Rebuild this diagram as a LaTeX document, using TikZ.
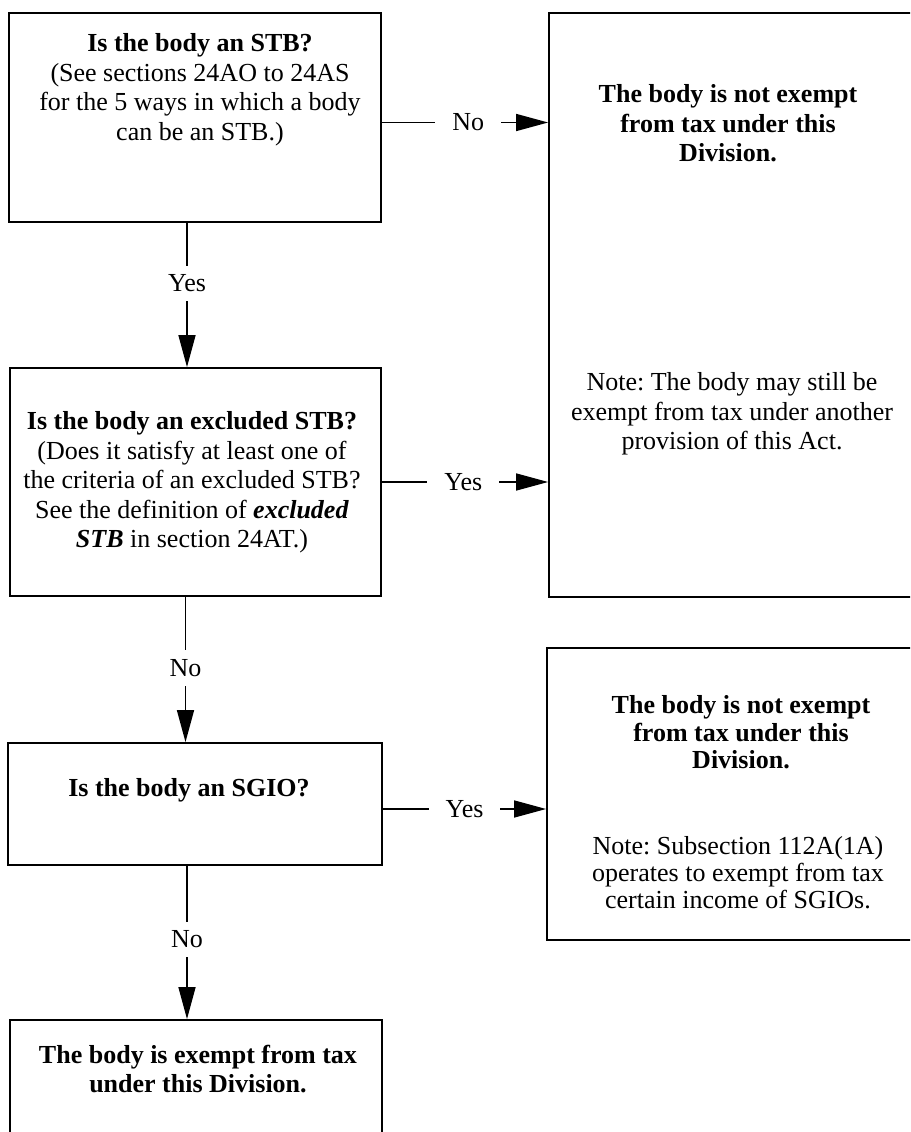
\documentclass[tikz,border=0pt]{standalone}
\usepackage{fontspec}
\setmainfont{Liberation Serif}
\usetikzlibrary{arrows.meta}
\frenchspacing
\begin{document}
\begin{tikzpicture}[x=1pt,y=-1pt,
  boxnode/.style={draw=black,line width=1.8pt,inner sep=0pt},
  txt/.style={align=center,inner sep=0pt,font=\frenchspacing\fontsize{26}{29.5}\selectfont},
  arr/.style={line width=1.5pt,-{Triangle[length=32pt,width=17pt]}},
  lab/.style={fill=white,inner xsep=17pt,inner ysep=9pt,font=\fontsize{26}{29}\selectfont}]
\clip (0,0) rectangle (910,1132);
% boxes
\node[boxnode,minimum width=372pt,minimum height=209pt] (b1) at (195,117.5) {};
\node[boxnode,minimum width=381pt,minimum height=584pt] (r1) at (739.5,305) {};
\node[boxnode,minimum width=371pt,minimum height=228pt] (b2) at (195.5,482) {};
\node[boxnode,minimum width=383pt,minimum height=292pt] (r2) at (738.5,794) {};
\node[boxnode,minimum width=374pt,minimum height=122pt] (b3) at (195,804) {};
\node[boxnode,minimum width=372pt,minimum height=150pt] (b4) at (196,1095) {};
% texts
\node[txt] (t1) at (200,89.5) {\textbf{Is the body an STB?}\\(See sections 24AO to 24AS\\for the 5 ways in which a body\\can be an STB.)};
\node[txt] (t2) at (728,123.5) {\textbf{The body is not exempt}\\\textbf{from tax under this}\\\textbf{Division.}};
\node[txt] (t3) at (732,414) {Note: The body may still be\\exempt from tax under another\\provision of this Act.};
\node[txt] (t4) at (192,482.5) {\textbf{Is the body an excluded STB?}\\(Does it satisfy at least one of\\the criteria of an excluded STB?\\See the definition of \textbf{\textit{excluded}}\\\textbf{\textit{STB}} in section 24AT.)};
\node[txt,font=\frenchspacing\fontsize{26}{27.5}\selectfont] (t5) at (741,732.5) {\textbf{The body is not exempt}\\\textbf{from tax under this}\\\textbf{Division.}};
\node[txt,font=\frenchspacing\fontsize{26}{27}\selectfont] (t6) at (738,872.5) {Note: Subsection 112A(1A)\\operates to exempt from tax\\certain income of SGIOs.};
\node[txt] (t7) at (189,790) {\textbf{Is the body an SGIO?}};
\node[txt] (t8) at (198,1069) {\textbf{The body is exempt from tax}\\\textbf{under this Division.}};
% connectors
\coordinate (s1) at ([yshift=-5pt]b1.east);
\coordinate (s3) at ([yshift=-5pt]b3.east);
\draw[arr] ([xshift=-8pt]b1.south) -- node[lab,pos=0.42]{Yes} ([xshift=-8pt]b1.south |- b2.north);
\draw[arr] (s1) -- node[lab,pos=0.52]{No} (s1 -| r1.west);
\draw[arr] (b2.east) -- node[lab,pos=0.49]{Yes} (b2.east -| r1.west);
\draw[arr] ([xshift=-10pt]b2.south) -- node[lab,pos=0.49]{No} ([xshift=-10pt]b2.south |- b3.north);
\draw[arr] (s3) -- node[lab,pos=0.50]{Yes} (s3 -| r2.west);
\draw[arr] ([xshift=-8pt]b3.south) -- node[lab,pos=0.48]{No} ([xshift=-8pt]b3.south |- b4.north);
\end{tikzpicture}
\end{document}
